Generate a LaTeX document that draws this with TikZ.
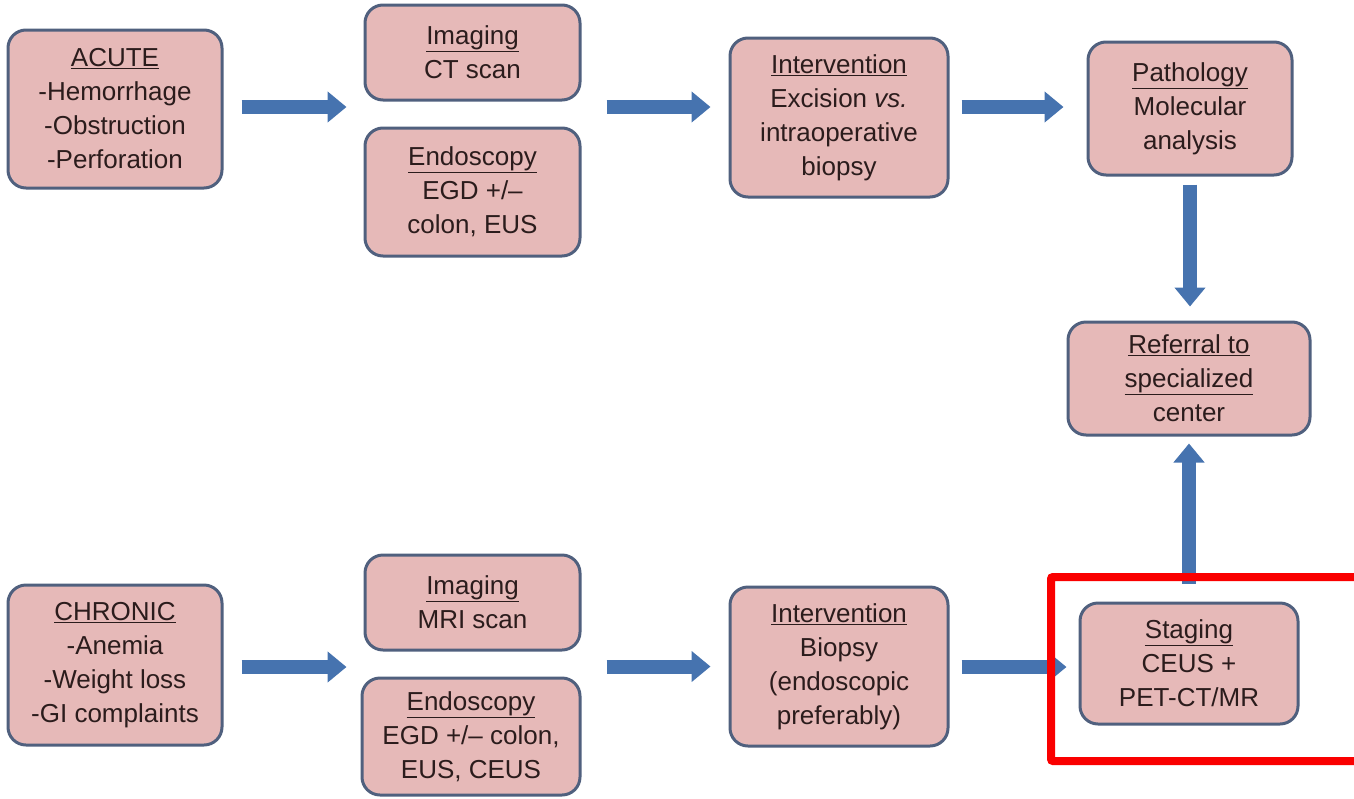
\documentclass[tikz,border=0pt]{standalone}
\usepackage{fontspec}
\setmainfont{Liberation Sans}
\usetikzlibrary{arrows.meta,calc}
\definecolor{boxfill}{RGB}{230,185,184}
\definecolor{boxline}{RGB}{80,96,126}
\definecolor{arrowblue}{RGB}{70,115,175}
\definecolor{txt}{RGB}{43,28,28}
\definecolor{hlred}{RGB}{250,0,0}
\begin{document}
\begin{tikzpicture}[x=1pt,y=-1pt,
  box/.style={draw=boxline, line width=3pt, fill=boxfill, rounded corners=18pt,
    align=center, inner sep=0pt, text=txt, font=\fontsize{26}{34}\selectfont},
  barrow/.style={draw=arrowblue, line width=14pt, -{Triangle[length=19pt,width=30pt]}}]
\useasboundingbox (0,0) rectangle (1354,798);

\node[box, minimum width=214pt, minimum height=158pt] (acute) at (115,109)
  {\underline{ACUTE}\\-Hemorrhage\\-Obstruction\\-Perforation};
\node[box, minimum width=215pt, minimum height=95pt] (imgct) at (472.5,52.5)
  {\underline{Imaging}\\CT scan};
\node[box, minimum width=215pt, minimum height=128pt] (endo1) at (472.5,192)
  {\underline{Endoscopy}\\EGD +/--\\colon, EUS};
\node[box, minimum width=218pt, minimum height=159pt] (int1) at (839,117.5)
  {\underline{Intervention}\\Excision \textit{vs.}\\intraoperative\\biopsy};
\node[box, minimum width=204pt, minimum height=133pt] (path) at (1190,108.5)
  {\underline{Pathology}\\Molecular\\analysis};
\node[box, minimum width=242pt, minimum height=113pt] (ref) at (1189,378.5)
  {\underline{Referral to}\\\underline{specialized}\\center};
\node[box, minimum width=214pt, minimum height=160pt] (chron) at (115,665)
  {\underline{CHRONIC}\\-Anemia\\-Weight loss\\-GI complaints};
\node[box, minimum width=215pt, minimum height=95pt] (imgmri) at (472.5,602.5)
  {\underline{Imaging}\\MRI scan};
\node[box, minimum width=218pt, minimum height=117pt] (endo2) at (471,736.5)
  {\underline{Endoscopy}\\EGD +/-- colon,\\EUS, CEUS};
\node[box, minimum width=218pt, minimum height=159pt] (int2) at (839,666.5)
  {\underline{Intervention}\\Biopsy\\(endoscopic\\preferably)};
\node[box, minimum width=218pt, minimum height=121pt] (stag) at (1189,663.5)
  {\underline{Staging}\\CEUS +\\PET-CT/MR};

% top row arrows
\draw[barrow, shorten <=18pt, shorten >=17pt] ($(acute.east)+(0pt,2pt)$) -- ($(acute.east -| imgct.west)+(0pt,2pt)$);
\draw[barrow, shorten <=25pt, shorten >=18pt] ($(int1.west -| imgct.east)+(0pt,10.5pt)$) -- ($(int1.west)+(0pt,10.5pt)$);
\draw[barrow, shorten <=12pt, shorten >=23pt] ($(path.west -| int1.east)+(0pt,1.5pt)$) -- ($(path.west)+(0pt,1.5pt)$);
% vertical arrows
\draw[barrow, shorten <=8pt, shorten >=14pt] (path.south) -- (path.south |- ref.north);
\draw[barrow, shorten <=18pt, shorten >=7pt] (stag.north) -- (stag.north |- ref.south);
% bottom row arrows
\draw[barrow, shorten <=18pt, shorten >=17pt] ($(chron.east)+(0pt,-2pt)$) -- ($(chron.east -| imgmri.west)+(0pt,-2pt)$);
\draw[barrow, shorten <=25pt, shorten >=18pt] (int2.west -| imgmri.east) -- (int2.west);
\draw[barrow, shorten <=12pt, shorten >=12pt] ($(int2.east)+(0pt,-0.5pt)$) -- ($(int2.east -| stag.west)+(0pt,-0.5pt)$);

% highlight
\draw[hlred, line width=8pt, rounded corners=2pt] (1051,577) rectangle (1372,761);
\end{tikzpicture}
\end{document}
